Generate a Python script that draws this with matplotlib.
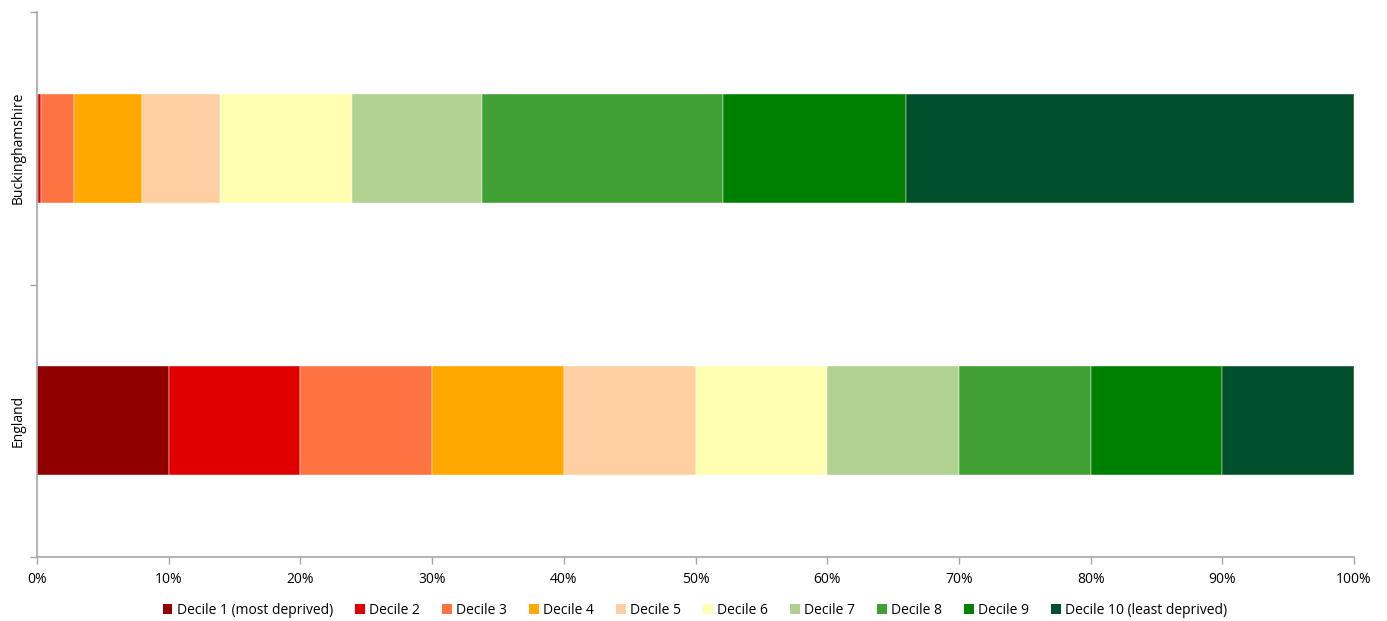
import matplotlib
matplotlib.use("Agg")
import matplotlib.pyplot as plt
from matplotlib.ticker import FuncFormatter, FixedLocator
from matplotlib.patches import Patch

plt.rcParams['font.family'] = ['Open Sans', 'DejaVu Sans']

areas = ["England", "Buckinghamshire"]
deciles = ["Decile 1 (most deprived)", "Decile 2", "Decile 3", "Decile 4", "Decile 5",
           "Decile 6", "Decile 7", "Decile 8", "Decile 9", "Decile 10 (least deprived)"]
england = [10.0, 10.0, 10.0, 10.0, 10.0, 10.0, 10.0, 10.0, 10.0, 10.0]
bucks = [0.05, 0.25, 2.5, 5.2, 5.9, 10.0, 9.9, 18.3, 13.9, 34.0]
colors = ["#910000", "#E10000", "#FF7343", "#FFA800", "#FFCFA1",
          "#FFFFB1", "#B1D193", "#41A033", "#008000", "#00512B"]

fig = plt.figure(figsize=(13.87, 6.21), dpi=100)
ax = fig.add_axes([37/1387, 1-557/621, (1354-37)/1387, (557-12)/621])

data = [england, bucks]
for yi, vals in enumerate(data):
    s = sum(vals)
    left = 0.0
    for i, v in enumerate(vals):
        pct = v / s * 100
        ax.barh(yi, pct, left=left, height=0.4, color=colors[i], edgecolor='white', linewidth=0.3)
        left += pct

ax.set_xlim(0, 100)
ax.set_ylim(-0.5, 1.5)
ax.set_xticks(range(0, 101, 10))
ax.xaxis.set_major_formatter(FuncFormatter(lambda x, p: f"{int(round(x))}%"))
ax.yaxis.set_major_locator(FixedLocator([-0.5, 0.5, 1.5]))
ax.set_yticklabels([])
ax.yaxis.set_minor_locator(FixedLocator([0, 1]))
ax.set_yticks([0, 1], minor=True)
ax.set_yticklabels(areas, minor=True, rotation=90, va='center', fontsize=10)
ax.tick_params(axis='y', which='minor', length=0, pad=8)
ax.tick_params(axis='both', which='major', direction='out', length=5, color='#A6A6A6', width=1, labelsize=10)
ax.tick_params(axis='x', pad=6)
for sp in ['top', 'right']:
    ax.spines[sp].set_visible(False)
for sp in ['left', 'bottom']:
    ax.spines[sp].set_color('#A6A6A6')
    ax.spines[sp].set_linewidth(1.2)

handles = [Patch(facecolor=c, edgecolor='none') for c in colors]
fig.legend(handles, deciles, loc='center', bbox_to_anchor=(695/1387, 1-610/621), ncol=10,
           frameon=False, fontsize=10, handlelength=0.7, handleheight=0.7,
           handletextpad=0.3, columnspacing=1.6)

fig.savefig("out.png", dpi=100)
